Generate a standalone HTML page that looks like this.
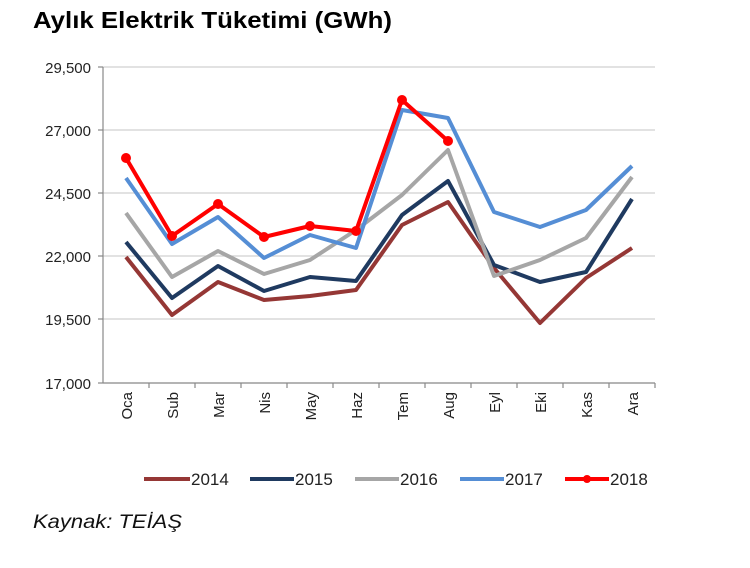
<!DOCTYPE html>
<html><head><meta charset="utf-8"><style>
body{margin:0;background:#fff;width:750px;height:563px;overflow:hidden}
</style></head><body>
<svg width="750" height="563" xmlns="http://www.w3.org/2000/svg" font-family="Liberation Sans, Arial, sans-serif">
<text x="33" y="28" font-size="23" font-weight="bold" fill="#000" textLength="359" lengthAdjust="spacingAndGlyphs">Aylık Elektrik Tüketimi (GWh)</text>
<g stroke="#d0d0d0" stroke-width="1.3">
<line x1="103" y1="67" x2="655" y2="67"/><line x1="103" y1="130" x2="655" y2="130"/>
<line x1="103" y1="193" x2="655" y2="193"/><line x1="103" y1="256" x2="655" y2="256"/>
<line x1="103" y1="319" x2="655" y2="319"/>
</g>
<g stroke="#888" stroke-width="1.2">
<line x1="103" y1="67" x2="103" y2="383"/><line x1="103" y1="383" x2="655" y2="383"/>
<line x1="98" y1="67" x2="103" y2="67"/><line x1="98" y1="130" x2="103" y2="130"/><line x1="98" y1="193" x2="103" y2="193"/><line x1="98" y1="256" x2="103" y2="256"/><line x1="98" y1="319" x2="103" y2="319"/><line x1="98" y1="383" x2="103" y2="383"/>
<line x1="149" y1="383" x2="149" y2="388"/><line x1="195" y1="383" x2="195" y2="388"/><line x1="241" y1="383" x2="241" y2="388"/><line x1="287" y1="383" x2="287" y2="388"/><line x1="333" y1="383" x2="333" y2="388"/><line x1="379" y1="383" x2="379" y2="388"/><line x1="425" y1="383" x2="425" y2="388"/><line x1="471" y1="383" x2="471" y2="388"/><line x1="517" y1="383" x2="517" y2="388"/><line x1="563" y1="383" x2="563" y2="388"/><line x1="609" y1="383" x2="609" y2="388"/><line x1="655" y1="383" x2="655" y2="388"/>
</g>
<g font-size="15" fill="#222" text-anchor="end">
<text x="91" y="73">29,500</text><text x="91" y="136">27,000</text><text x="91" y="199">24,500</text><text x="91" y="262">22,000</text><text x="91" y="325">19,500</text><text x="91" y="389">17,000</text>
</g>
<g font-size="15" fill="#222" text-anchor="end">
<text transform="translate(132,392) rotate(-90)">Oca</text>
<text transform="translate(178,392) rotate(-90)">Sub</text>
<text transform="translate(224,392) rotate(-90)">Mar</text>
<text transform="translate(270,392) rotate(-90)">Nis</text>
<text transform="translate(316,392) rotate(-90)">May</text>
<text transform="translate(362,392) rotate(-90)">Haz</text>
<text transform="translate(408,392) rotate(-90)">Tem</text>
<text transform="translate(454,392) rotate(-90)">Aug</text>
<text transform="translate(500,392) rotate(-90)">Eyl</text>
<text transform="translate(546,392) rotate(-90)">Eki</text>
<text transform="translate(592,392) rotate(-90)">Kas</text>
<text transform="translate(638,392) rotate(-90)">Ara</text>
</g>
<g fill="none" stroke-width="4" stroke-linejoin="round">
<polyline stroke="#953735" points="126,257 172,315 218,282 264,300 310,296 356,290 402,225 448,202 494,268 540,323 586,278 632,248"/>
<polyline stroke="#1f3a60" points="126,242 172,298 218,266 264,291 310,277 356,281 402,215 448,181 494,265 540,282 586,272 632,199"/>
<polyline stroke="#a6a6a6" points="126,213 172,277 218,251 264,274 310,260 356,230 402,195 448,150 494,276 540,260 586,238 632,177"/>
<polyline stroke="#558ed5" points="126,178 172,244 218,217 264,258 310,235 356,248 402,110 448,118 494,212 540,227 586,210 632,166"/>
<polyline stroke="#ff0000" points="126,158 172,236 218,204 264,237 310,226 356,231 402,100 448,141"/>
</g>
<g fill="#ff0000">
<circle cx="126" cy="158" r="5"/><circle cx="172" cy="236" r="5"/><circle cx="218" cy="204" r="5"/><circle cx="264" cy="237" r="5"/><circle cx="310" cy="226" r="5"/><circle cx="356" cy="231" r="5"/><circle cx="402" cy="100" r="5"/><circle cx="448" cy="141" r="5"/>
</g>
<g stroke-width="4" font-size="17" fill="#222">
<line x1="144" y1="479" x2="190" y2="479" stroke="#953735"/><text x="191" y="485" stroke="none">2014</text>
<line x1="250" y1="479" x2="294" y2="479" stroke="#1f3a60"/><text x="295" y="485" stroke="none">2015</text>
<line x1="355" y1="479" x2="399" y2="479" stroke="#a6a6a6"/><text x="400" y="485" stroke="none">2016</text>
<line x1="460" y1="479" x2="504" y2="479" stroke="#558ed5"/><text x="505" y="485" stroke="none">2017</text>
<line x1="565" y1="479" x2="609" y2="479" stroke="#ff0000"/><circle cx="587" cy="479" r="4" fill="#ff0000" stroke="none"/><text x="610" y="485" stroke="none">2018</text>
</g>
<text x="33" y="528" font-size="19" font-style="italic" fill="#111" textLength="149" lengthAdjust="spacingAndGlyphs">Kaynak: TEİAŞ</text>
</svg>
</body></html>
